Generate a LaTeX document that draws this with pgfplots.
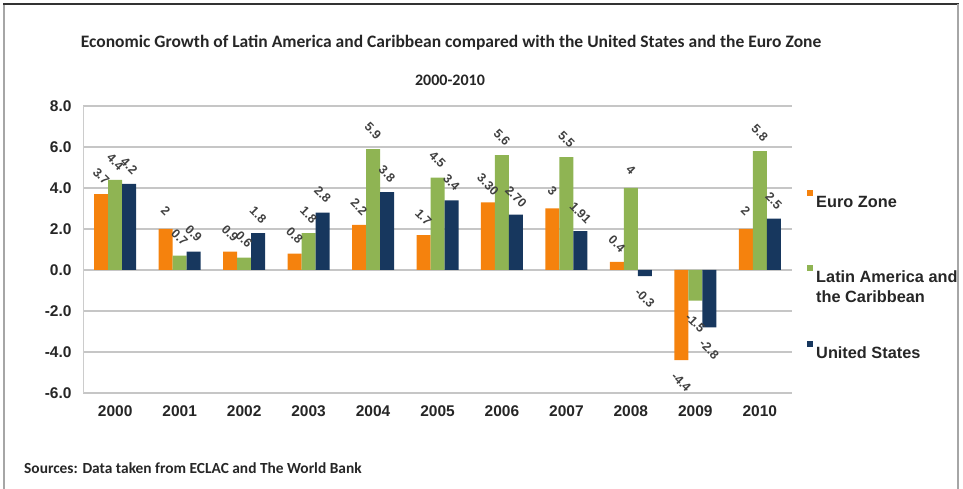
\documentclass[border=0pt]{standalone}
\usepackage{pgfplots}
\usepackage{pgfplotstable}
\pgfplotsset{compat=1.18}
\usepackage{fontspec}
\setmainfont{Carlito}
\newfontfamily\arialfont{Liberation Sans}
\definecolor{euro}{HTML}{F5820D}
\definecolor{latin}{HTML}{8FB453}
\definecolor{usa}{HTML}{17375E}
\definecolor{lbl}{HTML}{404040}

\pgfplotstableread{
x y lab
0 3.7 3.7
1 2 2
2 0.9 0.9
3 0.8 0.8
4 2.2 2.2
5 1.7 1.7
6 3.3 3.30
7 3 3
8 0.4 0.4
9 -4.4 -4.4
10 2 2
}\euro
\pgfplotstableread{
x y lab
0 4.4 4.4
1 0.7 0.7
2 0.6 0.6
3 1.8 1.8
4 5.9 5.9
5 4.5 4.5
6 5.6 5.6
7 5.5 5.5
8 4 4
9 -1.5 -1.5
10 5.8 5.8
}\latin
\pgfplotstableread{
x y lab
0 4.2 4.2
1 0.9 0.9
2 1.8 1.8
3 2.8 2.8
4 3.8 3.8
5 3.4 3.4
6 2.7 2.70
7 1.9 1.91
8 -0.3 -0.3
9 -2.8 -2.8
10 2.5 2.5
}\usa

\begin{document}
\begin{tikzpicture}[x=1pt,y=1pt]
\useasboundingbox (0,0) rectangle (963,489);
\draw[gray!70, line width=1.5pt] (4,0) -- (4,485);
\draw[black!80, line width=2pt] (3,485) -- (959,485);
\draw[gray!70, line width=1.5pt] (958,0) -- (958,485);
\node[font=\fontsize{17.5}{20}\selectfont\bfseries, text=black!85] at (451,446) {Economic Growth of Latin America and Caribbean compared with the United States and the Euro Zone};
\node[font=\fontsize{16}{19}\selectfont\bfseries, text=black!85] at (450,409) {2000-2010};
\node[font=\fontsize{15.4}{18}\selectfont\bfseries, text=black!85, anchor=west, inner sep=0pt] at (24,21) {Sources: Data taken from ECLAC and The World Bank};
\begin{axis}[
  at={(83pt,96pt)}, anchor=south west,
  scale only axis, width=709pt, height=287pt,
  xmin=-0.5, xmax=10.5, ymin=-6, ymax=8,
  ytick={-6,-4,...,8},
  xtick={0,...,10},
  xticklabels={2000,2001,2002,2003,2004,2005,2006,2007,2008,2009,2010},
  ymajorgrids, grid style={gray!45, line width=1.2pt},
  axis y line*=left, axis x line*=bottom,
  x axis line style={draw=none},
  y axis line style={gray!40, line width=1pt},
  tick style={draw=none},
  yticklabel style={font=\arialfont\fontsize{15.5}{17}\selectfont\bfseries, text=black!85, xshift=-8pt},
  xticklabel style={font=\arialfont\fontsize{15.5}{17}\selectfont\bfseries, text=black!85, yshift=-5pt},
  /pgf/number format/.cd, fixed, fixed zerofill, precision=1, assume math mode=true,
  /pgfplots/.cd,
  ybar=0pt, bar width=14pt,
  clip=false,
  point meta=explicit symbolic,
  visualization depends on={rawy \as \rawy},
  nodes near coords,
  every node near coord/.append style={font=\arialfont\fontsize{12.5}{14}\selectfont\bfseries, text=lbl, anchor=center, yshift={\rawy<0 ? -22 : 18}, rotate=-45},
  legend cell align=left,
  legend image code/.code={\fill[#1] (0pt,6pt) rectangle (6pt,12pt);},
  legend style={draw=none, fill=none, at={(1.0212,0.7093)}, anchor=north west, inner sep=0pt, row sep=57pt, column sep=2pt,
    font=\arialfont\fontsize{16.3}{20}\selectfont\bfseries,
    nodes={inner sep=1pt, text height=11pt, text depth=0pt, text=black!85}},
]
\addplot[fill=euro, draw=none] table[x=x, y=y, meta=lab] {\euro};
\addplot[fill=latin, draw=none] table[x=x, y=y, meta=lab] {\latin};
\addplot[fill=usa, draw=none] table[x=x, y=y, meta=lab] {\usa};
\legend{Euro Zone, {\smash{\begin{tabular}[t]{@{}l@{}}Latin America and\\the Caribbean\end{tabular}}}, United States}
\end{axis}
\end{tikzpicture}
\end{document}
